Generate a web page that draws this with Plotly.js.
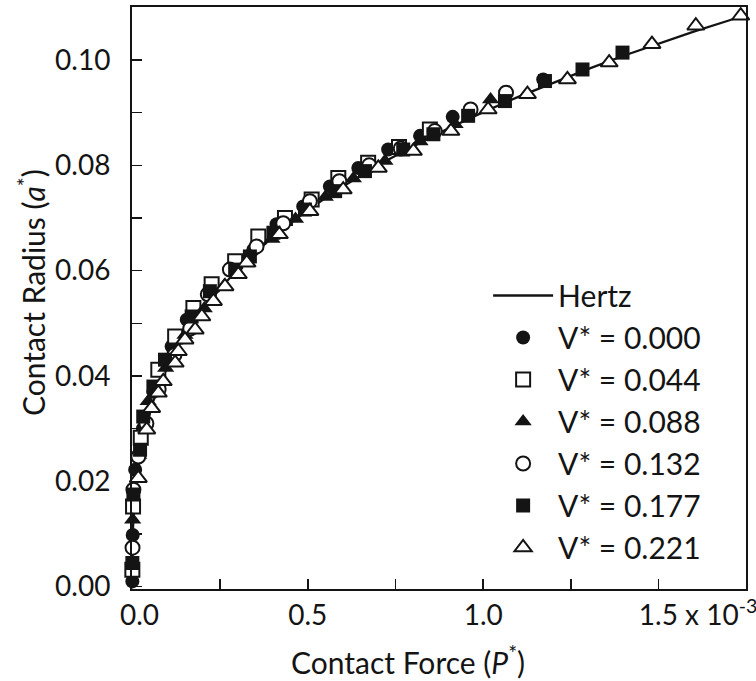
<!DOCTYPE html>
<html>
<head>
<meta charset="utf-8">
<script src="https://cdn.plot.ly/plotly-3.0.1.min.js"></script>
<style>html,body{margin:0;padding:0;background:#fff;}#chart{width:756px;height:681px;}</style>
</head>
<body>
<div id="chart"></div>
<script>
// Contact force P* (in units of 1e-3) and contact radius a*
var hertzP = [0, 0.0001, 0.0005, 0.002, 0.01, 0.03, 0.06, 0.1, 0.15, 0.2, 0.3, 0.4, 0.5, 0.6, 0.7, 0.8, 0.9, 1.0, 1.1, 1.2, 1.3, 1.4, 1.5, 1.6, 1.7, 1.75];
var hertzA = [0, 0.0042, 0.0072, 0.0114, 0.0194, 0.0280, 0.0353, 0.0418, 0.0479, 0.0527, 0.0603, 0.0664, 0.0715, 0.0760, 0.0800, 0.0836, 0.0870, 0.0901, 0.0930, 0.0957, 0.0983, 0.1008, 0.1031, 0.1054, 0.1075, 0.1086];

var v000P = [0.000, 0.001, 0.008, 0.030, 0.060, 0.112, 0.155, 0.221, 0.285, 0.345, 0.411, 0.487, 0.563, 0.644, 0.729, 0.820, 0.913, 1.171];
var v000A = [0.0010, 0.0098, 0.0222, 0.0300, 0.0370, 0.0456, 0.0507, 0.0561, 0.0600, 0.0640, 0.0688, 0.0722, 0.0760, 0.0795, 0.0830, 0.0856, 0.0892, 0.0963];

var v044P = [0.000, 0.002, 0.024, 0.074, 0.122, 0.174, 0.226, 0.293, 0.359, 0.435, 0.511, 0.587, 0.672, 0.760, 0.848];
var v044A = [0.0032, 0.0152, 0.0283, 0.0412, 0.0475, 0.0529, 0.0574, 0.0618, 0.0665, 0.0700, 0.0735, 0.0776, 0.0805, 0.0835, 0.0868];

var v088P = [0.001, 0.018, 0.045, 0.095, 0.150, 0.205, 0.262, 0.330, 0.398, 0.465, 0.550, 0.630, 0.720, 0.820, 0.920, 1.021];
var v088A = [0.0127, 0.0250, 0.0352, 0.0415, 0.0478, 0.0528, 0.0572, 0.0615, 0.0660, 0.0698, 0.0740, 0.0775, 0.0808, 0.0845, 0.0878, 0.0925];

var v132P = [0.0005, 0.003, 0.017, 0.040, 0.075, 0.120, 0.165, 0.215, 0.278, 0.354, 0.430, 0.506, 0.590, 0.675, 0.765, 0.862, 0.964, 1.065];
var v132A = [0.0074, 0.0184, 0.0247, 0.0310, 0.0375, 0.0440, 0.0490, 0.0555, 0.0602, 0.0646, 0.0690, 0.0732, 0.0770, 0.0800, 0.0832, 0.0865, 0.0906, 0.0938];

var v177P = [0.000, 0.003, 0.022, 0.031, 0.060, 0.093, 0.169, 0.221, 0.293, 0.335, 0.402, 0.492, 0.578, 0.663, 0.772, 0.858, 0.957, 1.062, 1.176, 1.283, 1.397];
var v177A = [0.0045, 0.0175, 0.0260, 0.0323, 0.0380, 0.0431, 0.0513, 0.0561, 0.0602, 0.0627, 0.0672, 0.0716, 0.0751, 0.0789, 0.0830, 0.0859, 0.0894, 0.0922, 0.0960, 0.0982, 0.1014];

var v221P = [0.017, 0.041, 0.055, 0.074, 0.088, 0.122, 0.131, 0.150, 0.179, 0.198, 0.231, 0.264, 0.302, 0.326, 0.419, 0.506, 0.601, 0.701, 0.801, 0.908, 1.014, 1.126, 1.240, 1.359, 1.481, 1.606, 1.734];
var v221A = [0.0206, 0.0298, 0.0339, 0.0368, 0.0390, 0.0425, 0.0447, 0.0469, 0.0488, 0.0513, 0.0542, 0.0570, 0.0593, 0.0615, 0.0669, 0.0713, 0.0754, 0.0795, 0.0827, 0.0865, 0.0906, 0.0935, 0.0963, 0.0995, 0.1030, 0.1065, 0.1084];

var seriesNames = ['Hertz', 'V* = 0.000', 'V* = 0.044', 'V* = 0.088', 'V* = 0.132', 'V* = 0.177', 'V* = 0.221'];

var NB = '\u00a0';
var xTickVals = [0, 0.25, 0.5, 0.75, 1.0, 1.25, 1.5];
var xTickText = [NB + NB + '0.0', '', '0.5', '', '1.0', '', NB.repeat(11) + '1.5 x 10<sup>-3</sup>'];
var yTickVals = [0, 0.01, 0.02, 0.03, 0.04, 0.05, 0.06, 0.07, 0.08, 0.09, 0.10];
var yTickText = ['0.00', '', '0.02', '', '0.04', '', '0.06', '', '0.08', '', '0.10'];

var ink = '#141414';
var FONT = 'Lato, "Open Sans", sans-serif';

function mk(x, y, name, symbol, filled) {
  return {
    x: x, y: y, name: name, type: 'scatter', mode: 'markers', cliponaxis: false,
    legendgroup: name,
    marker: {symbol: symbol, size: symbol === 'triangle-up' ? 15 : 14,
             color: filled ? ink : '#ffffff',
             line: {color: ink, width: filled ? 0 : 2}}
  };
}

var traces = [
  {x: hertzP, y: hertzA, name: seriesNames[0], type: 'scatter', mode: 'lines', legendgroup: 'h',
   line: {color: ink, width: 2.3}},
  mk(v000P, v000A, seriesNames[1], 'circle', true),
  mk(v044P, v044A, seriesNames[2], 'square', false),
  mk(v088P, v088A, seriesNames[3], 'triangle-up', true),
  mk(v132P, v132A, seriesNames[4], 'circle', false),
  mk(v177P, v177A, seriesNames[5], 'square', true),
  mk(v221P, v221A, seriesNames[6], 'triangle-up', false)
];

var axisCommon = {
  showline: true, mirror: true, linecolor: ink, linewidth: 2,
  ticks: 'inside', ticklen: 10, tickwidth: 1.5, tickcolor: ink,
  showgrid: false, zeroline: false, tickmode: 'array',
  tickfont: {family: FONT, size: 28, color: ink}
};

var layout = {
  width: 756, height: 681,
  margin: {l: 132, r: 10, t: 7, b: 92},
  paper_bgcolor: '#ffffff', plot_bgcolor: '#ffffff',
  showlegend: true,
  xaxis: Object.assign({}, axisCommon, {range: [-0.001, 1.749], tickvals: xTickVals, ticktext: xTickText,
                                        ticklabelstandoff: 0, ticklabeloverflow: 'allow'}),
  yaxis: Object.assign({}, axisCommon, {range: [-0.00044, 0.11006], tickvals: yTickVals, ticktext: yTickText, ticklabelstandoff: 14}),
  legend: {x: 0.580, y: 0.549, xanchor: 'left', yanchor: 'top',
           font: {family: FONT, size: 30, color: ink},
           bgcolor: 'rgba(0,0,0,0)', borderwidth: 0, itemwidth: 60, tracegroupgap: 0},
  annotations: [
    {text: 'Contact Radius (<i>a</i><sup>*</sup>)', xref: 'paper', yref: 'paper', x: -0.163, y: 0.510,
     xanchor: 'center', yanchor: 'middle', textangle: -90, showarrow: false,
     font: {family: FONT, size: 30, color: ink}},
    {text: 'Contact Force (<i>P</i><sup>*</sup>)', xref: 'paper', yref: 'paper', x: 0.450, y: -0.122,
     xanchor: 'center', yanchor: 'middle', showarrow: false,
     font: {family: FONT, size: 30, color: ink}}
  ]
};

Plotly.newPlot('chart', traces, layout, {staticPlot: true, displayModeBar: false});
</script>
</body>
</html>
